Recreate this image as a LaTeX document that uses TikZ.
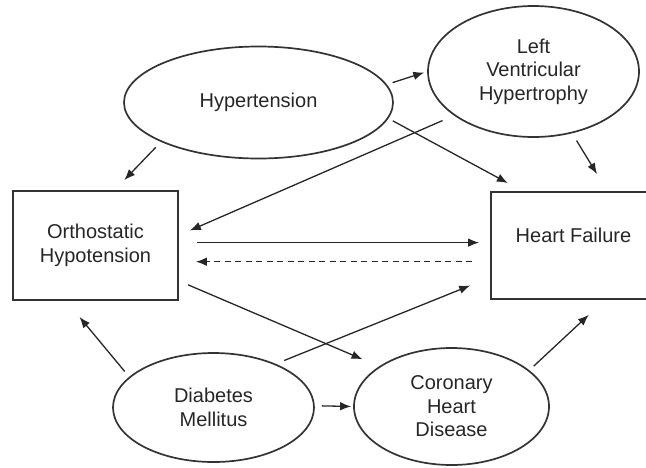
\documentclass[tikz,border=0pt]{standalone}
\usepackage{fontspec}
\setmainfont{Liberation Sans}
\usetikzlibrary{shapes.geometric,arrows.meta}

\begin{document}
\begin{tikzpicture}[x=1pt,y=-1pt,
	font=\fontsize{20}{23.5}\selectfont,
	oval/.style={ellipse,draw=black!80,line width=1.7pt,inner sep=0pt,align=center,text=black!85},
	box/.style={rectangle,draw=black!80,line width=1.7pt,inner sep=0pt,align=center,text=black!85},
	arr/.style={black!85,line width=1.3pt,-{Latex[length=11pt,width=8.5pt]}}]
	\useasboundingbox (0,0) rectangle (646,467);
	\clip (0,0) rectangle (646,467);
	% nodes
	\node[oval,minimum width=269pt,minimum height=112pt] (hyp) at (258.5,102.5) {Hypertension};
	\node[oval,minimum width=211pt,minimum height=131pt] (lvh) at (533.5,71.5) {Left\\Ventricular\\Hypertrophy};
	\node[box,minimum width=165pt,minimum height=109pt] (ortho) at (95.5,245.5) {Orthostatic\\Hypotension};
	\node[box,minimum width=165pt,minimum height=107pt] (hf) at (573.5,245.5) {};
	\node[anchor=base,text=black!85] (hftext) at (573.5,242) {Heart Failure};
	\node[oval,minimum width=201pt,minimum height=109pt] (dm) at (213.5,407.5) {Diabetes\\Mellitus};
	\node[oval,minimum width=195pt,minimum height=117pt] (chd) at (451.5,406.5) {Coronary\\Heart\\Disease};
	% arrows
	\draw[arr,shorten <=6pt,shorten >=3pt] (hyp.8) -- (lvh.180);
	\draw[arr,shorten <=7.5pt,shorten >=14pt] (hyp.202) -- (ortho.71);
	\draw[arr,shorten <=5pt,shorten >=17pt] (hyp.353) -- (hf.133);
	\draw[arr,shorten <=12.5pt,shorten >=12pt] (lvh.209) -- (ortho.7);
	\draw[arr,shorten <=8.5pt,shorten >=20pt] (lvh.302) -- (hf.58);
	\draw[arr,shorten <=18pt,shorten >=11pt] (ortho.2) -- (hf.178);
	\draw[arr,dash pattern=on 6pt off 4.5pt,shorten <=18pt,shorten >=17pt] (hf.191) -- (ortho.349);
	\draw[arr,shorten <=10pt,shorten >=18pt] (ortho.337) -- (chd.151);
	\draw[arr,shorten <=9pt,shorten >=21.5pt] (dm.35) -- (hf.201);
	\draw[arr,shorten <=7pt,shorten >=21pt] (dm.160) -- (ortho.242);
	\draw[arr,shorten <=7pt,shorten >=2pt] (dm.1) -- (chd.180);
	\draw[arr,shorten <=6pt,shorten >=22pt] (chd.25) -- (hf.300);
\end{tikzpicture}
\end{document}
